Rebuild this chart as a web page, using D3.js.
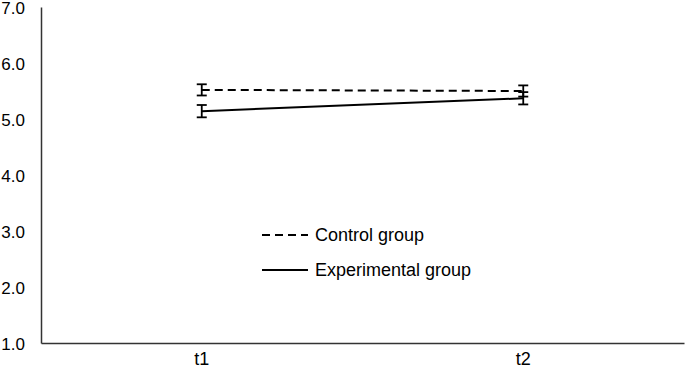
<!DOCTYPE html>
<html><head><meta charset="utf-8">
<script src="https://cdn.jsdelivr.net/npm/d3@7"></script>
<style>body{margin:0;background:#fff}svg{display:block}text{font-family:"Liberation Sans",Arial,sans-serif}</style>
</head><body>
<svg id="c" width="685" height="371"></svg>
<script>
const categories = ["t1", "t2"];
const yTicks = [1, 2, 3, 4, 5, 6, 7];
const controlMean = [5.52, 5.50];
const controlErr = [0.10, 0.10];
const experimentalMean = [5.14, 5.37];
const experimentalErr = [0.11, 0.11];
const seriesNames = ["Control group", "Experimental group"];

const svg = d3.select("#c");
const m = {l: 41, r: 1, t: 7, b: 28};
const W = 685, H = 371;
const x = d3.scaleBand().domain(categories).range([m.l, W - m.r]);
const y = d3.scaleLinear().domain([1, 7]).range([H - m.b, m.t]);

const ya = svg.append("g").attr("transform", `translate(${m.l},0)`)
  .call(d3.axisLeft(y).tickValues(yTicks).tickFormat(d3.format(".1f")).tickSize(0).tickPadding(16));
ya.select(".domain").attr("stroke", "#333").attr("stroke-width", 1.5);
ya.selectAll("text").attr("font-size", 17).attr("fill", "#000").attr("dy", "0.36em");

const xa = svg.append("g").attr("transform", `translate(0,${H - m.b})`)
  .call(d3.axisBottom(x).tickSize(0).tickPadding(9));
xa.select(".domain").attr("stroke", "#333").attr("stroke-width", 1.5);
xa.selectAll("text").attr("font-size", 18).attr("fill", "#000");

const cx = d => x(d) + x.bandwidth() / 2;
const series = [
  {mean: controlMean, err: controlErr, dash: "8,5"},
  {mean: experimentalMean, err: experimentalErr, dash: null}
];
const line = d3.line().x((d, i) => cx(categories[i])).y(d => y(d));
series.forEach(s => {
  svg.append("path").attr("d", line(s.mean)).attr("fill", "none")
    .attr("stroke", "#000").attr("stroke-width", 2).attr("stroke-dasharray", s.dash);
  categories.forEach((c, i) => {
    const g = svg.append("g").attr("stroke", "#000").attr("stroke-width", 1.8);
    const px = cx(c), y1 = y(s.mean[i] + s.err[i]), y2 = y(s.mean[i] - s.err[i]);
    g.append("line").attr("x1", px).attr("x2", px).attr("y1", y1).attr("y2", y2);
    g.append("line").attr("x1", px - 5).attr("x2", px + 5).attr("y1", y1).attr("y2", y1);
    g.append("line").attr("x1", px - 5).attr("x2", px + 5).attr("y1", y2).attr("y2", y2);
  });
});

const lg = svg.append("g");
series.forEach((s, i) => {
  const ly = 235 + i * 35;
  lg.append("line").attr("x1", 262).attr("x2", 308).attr("y1", ly).attr("y2", ly)
    .attr("stroke", "#000").attr("stroke-width", 2).attr("stroke-dasharray", s.dash);
  lg.append("text").attr("x", 315).attr("y", ly + 6).attr("font-size", 18).text(seriesNames[i]);
});
</script>
</body></html>
